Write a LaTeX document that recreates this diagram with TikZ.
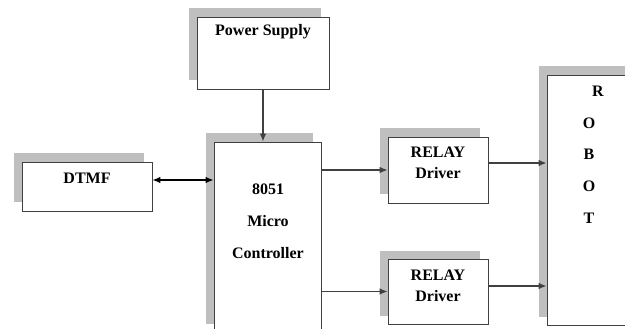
\documentclass[tikz,border=0pt]{standalone}
\usepackage{fontspec}
\setmainfont{Liberation Serif}
\usetikzlibrary{shadows,arrows.meta,calc}

\begin{document}
\begin{tikzpicture}[x=1pt, y=-1pt,
  blk/.style={draw=black!75, line width=0.8pt, fill=white, inner sep=0pt,
    drop shadow={shadow xshift=-8.5pt, shadow yshift=8.5pt, fill=black!25, opacity=1}},
  lbl/.style={font=\bfseries\fontsize{16}{21}\selectfont, align=center, inner sep=0pt},
  arr/.style={draw=black!75, line width=1.2pt, -{Latex[length=8pt, width=6.5pt]}}]
  % page frame (image coordinates, y downwards)
  \useasboundingbox (0,0) rectangle (625,329);
  \clip (0,0) rectangle (625,329);

  % Blocks
  \node[blk, minimum width=132pt, minimum height=72pt] (power) at (263, 53) {};
  \node[blk, minimum width=130pt, minimum height=49pt] (dtmf) at (87, 186.5) {};
  \node[blk, minimum width=107pt, minimum height=190pt] (mcu) at (267.5, 237) {};
  \node[blk, minimum width=100pt, minimum height=66pt] (relayA) at (438, 170) {};
  \node[blk, minimum width=100pt, minimum height=65pt] (relayB) at (438, 291.5) {};
  \node[blk, minimum width=130pt, minimum height=250pt] (robot) at (612, 200) {};

  % Labels
  \node[lbl] (powerlbl) at (263, 32) {Power Supply};
  \node[lbl] (dtmflbl) at (87, 178) {DTMF};
  \node[lbl, font=\bfseries\fontsize{16}{32}\selectfont] (mculbl) at (268, 221) {8051\\Micro\\Controller};
  \node[lbl] (relayAlbl) at (438, 162.5) {RELAY\\Driver};
  \node[lbl] (relayBlbl) at (438, 285.5) {RELAY\\Driver};

  % ROBOT, one letter per line
  \node[lbl] (robotR) at (598, 91) {R};
  \foreach \ch [count=\i] in {O,B,O,T}
    \node[lbl] (robot\i) at (589, 91 + 31.8*\i) {\ch};

  % Connectors
  \draw[arr] (power.south) -- (power.south |- mcu.north);

  \coordinate (dt) at ([yshift=6.5pt]dtmf.east);
  \draw[arr, draw=black, {Latex[length=8pt, width=6.5pt]}-{Latex[length=8pt, width=6.5pt]}] (dt) -- (dt -| mcu.west);

  \draw[arr] (mcu.east |- relayA.west) -- (relayA.west);
  \draw[arr] (mcu.east |- relayB.west) -- (relayB.west);

  \coordinate (ra) at ([yshift=7pt]relayA.east);
  \coordinate (rb) at ([yshift=5.5pt]relayB.east);
  \draw[arr] (ra) -- (ra -| robot.west);
  \draw[arr] (rb) -- (rb -| robot.west);
\end{tikzpicture}
\end{document}
